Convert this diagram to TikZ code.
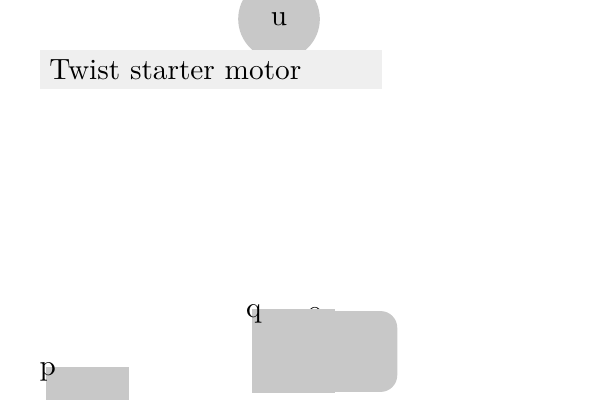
\documentclass[tikz,border=0pt]{standalone}
\usepackage{tikz}
\usetikzlibrary{positioning}
\definecolor{blockgray}{RGB}{200,200,200}
\definecolor{bargray}{RGB}{239,239,239}
\tikzset{
    blk/.style = {fill=blockgray,inner sep=0,minimum size=1cm},
    roundblk/.style = {fill=blockgray,rounded corners=0.2cm,inner sep=0,minimum width=1.52cm,minimum height=0.97cm},
    bar/.style = {fill=bargray,inner xsep=0.11cm,text width=3.88cm,minimum height=0.47cm,align=left},
    circ/.style = {circle,fill=blockgray,inner sep=0,minimum size=0.98cm}
}
\tikzset{
    corner/.style = {label={[anchor=mid,xshift=0.03cm,yshift=-0.035cm]north west:#1}}
}

\begin{document}
\begin{tikzpicture}
    \useasboundingbox (0,0) rectangle (7.2,4.8);
    % Top
    \node[circ] (u) at (3.348,4.572) {u};
    \node[bar] (motor) at (2.532,3.966) {Twist starter motor};
    % Blocks
    \node (o) at (3.78,1.032) {o};
    \node[blk,corner=p] (p) at (1.05,-0.108) {};
    \node[blk,corner=q] (q) at (3.522,0.588) {};
    \node[roundblk,anchor=west] (r) at (3.24,0.582) {};
\end{tikzpicture}
\end{document}
